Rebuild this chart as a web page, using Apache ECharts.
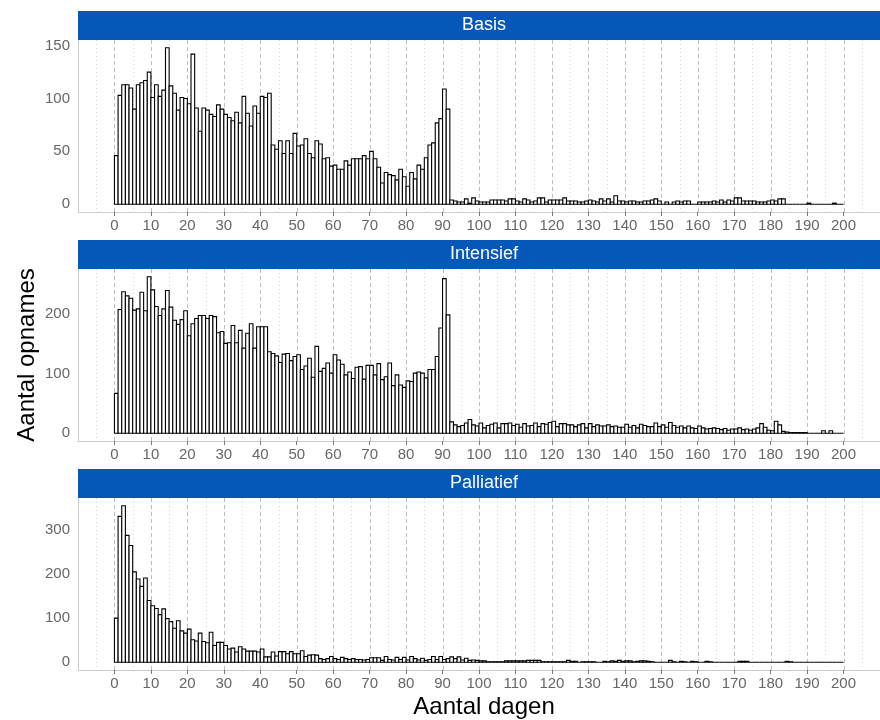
<!DOCTYPE html>
<html>
<head>
<meta charset="utf-8">
<script src="https://cdn.jsdelivr.net/npm/echarts@6/dist/echarts.min.js"></script>
<style>
  html, body { margin: 0; background: #fff; }
  #main { width: 880px; height: 720px; }
</style>
</head>
<body>
<div id="main"></div>
<script>
// facet names
var panels = ['Basis', 'Intensief', 'Palliatief'];

// aantal opnames per dag (dag 0 t/m 199)
var basis = [
  46, 103, 113, 113, 110, 90, 113, 115, 117, 125,
  101, 113, 102, 108, 148, 112, 105, 89, 101, 100,
  95, 142, 91, 69, 91, 89, 85, 83, 94, 90,
  85, 82, 79, 87, 77, 102, 86, 74, 93, 86,
  102, 101, 105, 56, 52, 60, 48, 60, 48, 67,
  55, 56, 62, 48, 44, 60, 57, 43, 44, 36,
  37, 33, 33, 41, 37, 43, 43, 43, 46, 43,
  50, 43, 35, 20, 30, 28, 27, 23, 33, 26,
  17, 30, 24, 37, 33, 44, 56, 58, 77, 81,
  109, 90, 4, 3, 2, 2, 5, 1, 6, 3,
  2, 2, 2, 4, 4, 4, 4, 3, 5, 5,
  3, 2, 5, 4, 2, 3, 6, 6, 2, 4,
  4, 4, 4, 6, 3, 3, 3, 2, 2, 3,
  4, 3, 2, 5, 3, 5, 2, 8, 3, 3,
  2, 3, 3, 2, 2, 3, 3, 4, 5, 3,
  0, 2, 0, 2, 3, 2, 3, 3, 0, 0,
  2, 2, 2, 2, 3, 2, 4, 2, 4, 3,
  6, 6, 3, 3, 3, 3, 2, 2, 2, 3,
  4, 3, 5, 5, 0, 0, 0, 0, 0, 0,
  1, 0, 0, 0, 0, 0, 0, 1, 0, 0
];

var intensief = [
  67, 208, 238, 231, 227, 207, 209, 237, 206, 263,
  241, 213, 198, 209, 240, 212, 190, 183, 191, 206,
  164, 184, 193, 198, 198, 193, 198, 196, 169, 171,
  151, 152, 181, 152, 173, 143, 168, 184, 143, 179,
  179, 179, 137, 134, 130, 119, 133, 134, 122, 129,
  132, 107, 113, 126, 94, 146, 104, 109, 118, 101,
  132, 123, 116, 98, 103, 92, 111, 112, 91, 114,
  114, 98, 117, 90, 95, 118, 80, 98, 81, 77,
  88, 87, 101, 103, 101, 93, 107, 107, 129, 177,
  260, 199, 19, 14, 11, 13, 17, 23, 14, 12,
  17, 9, 13, 15, 17, 9, 16, 16, 17, 13,
  15, 10, 16, 12, 13, 17, 11, 16, 15, 18,
  20, 11, 16, 16, 14, 14, 11, 14, 16, 9,
  16, 11, 14, 12, 12, 14, 11, 12, 10, 10,
  15, 10, 13, 9, 15, 13, 11, 11, 17, 11,
  14, 10, 18, 13, 10, 12, 9, 12, 9, 8,
  12, 9, 7, 8, 9, 8, 6, 8, 5, 7,
  7, 9, 6, 7, 5, 7, 9, 16, 10, 5,
  4, 20, 14, 3, 2, 1, 1, 1, 1, 1,
  0, 0, 0, 0, 4, 0, 4, 0, 0, 0
];

var palliatief = [
  100, 331, 355, 288, 265, 205, 189, 172, 191, 140,
  128, 122, 108, 121, 99, 92, 77, 94, 71, 66,
  75, 51, 48, 66, 47, 44, 68, 38, 45, 45,
  38, 30, 32, 23, 35, 30, 25, 25, 25, 23,
  30, 12, 12, 23, 14, 24, 24, 19, 24, 19,
  19, 26, 13, 16, 17, 16, 8, 6, 8, 13,
  8, 6, 11, 8, 6, 8, 6, 6, 5, 6,
  10, 10, 10, 4, 13, 6, 5, 11, 6, 11,
  5, 13, 8, 5, 9, 4, 6, 13, 6, 13,
  6, 8, 12, 8, 12, 5, 9, 4, 5, 4,
  3, 3, 1, 1, 1, 1, 1, 3, 3, 3,
  3, 3, 3, 4, 4, 4, 4, 1, 1, 1,
  1, 1, 1, 1, 4, 2, 2, 0, 1, 1,
  1, 1, 0, 0, 2, 1, 3, 2, 4, 2,
  3, 3, 1, 2, 3, 3, 2, 1, 0, 0,
  0, 0, 4, 1, 0, 2, 1, 0, 2, 1,
  0, 0, 2, 1, 0, 0, 0, 0, 0, 0,
  0, 2, 2, 2, 0, 0, 0, 0, 0, 0,
  0, 0, 0, 0, 2, 1, 0, 0, 0, 0,
  0, 0, 0, 0, 0, 0, 0, 0, 0, 0
];

// as-labels
var xMajor = [0, 10, 20, 30, 40, 50, 60, 70, 80, 90, 100, 110, 120, 130, 140, 150, 160, 170, 180, 190, 200];
var xMinor = [-5, 5, 15, 25, 35, 45, 55, 65, 75, 85, 95, 105, 115, 125, 135, 145, 155, 165, 175, 185, 195, 205];
var yTicks = [
  [0, 50, 100, 150],
  [0, 100, 200],
  [0, 100, 200, 300]
];

var seriesValues = [basis, intensief, palliatief];
var days = basis.map(function (v, i) { return i; });

var font = 'Liberation Sans, Arial, sans-serif';
var panelTop = [40, 269, 498];
var panelH = 172;
var stripH = 29;

var chart = echarts.init(document.getElementById('main'));

function barItem(params, api) {
  var d = api.value(0);
  var v = api.value(1);
  var p0 = api.coord([d, 0]);
  var p1 = api.coord([d + 1, v]);
  return {
    type: 'rect',
    shape: { x: p0[0], y: p1[1], width: p1[0] - p0[0], height: p0[1] - p1[1] },
    style: { fill: '#fff', stroke: '#000', lineWidth: 1.1 }
  };
}

function gridItem(params, api) {
  var x = Math.round(api.coord([api.value(0), 0])[0]) + 0.5;
  var cs = params.coordSys;
  var major = api.value(1) === 1;
  return {
    type: 'line',
    shape: { x1: x, y1: cs.y, x2: x, y2: cs.y + cs.height },
    style: {
      stroke: major ? '#bdbdbd' : '#d3d3d3',
      lineWidth: 1,
      lineDash: major ? [4, 3] : [1, 3]
    }
  };
}

var grids = [], xAxes = [], yAxes = [], series = [], graphics = [];

panels.forEach(function (name, i) {
  var vals = seriesValues[i];
  var top = Math.max.apply(null, vals);
  grids.push({ left: 78, top: panelTop[i], width: 814, height: panelH });
  xAxes.push({
    gridIndex: i,
    type: 'value',
    min: -10,
    max: 210,
    axisLine: { onZero: false, lineStyle: { color: '#cccccc' } },
    axisTick: { customValues: xMajor, length: 4, lineStyle: { color: '#777' } },
    axisLabel: { customValues: xMajor, color: '#666', fontSize: 15, fontFamily: font, margin: 6 },
    splitLine: { show: false }
  });
  yAxes.push({
    gridIndex: i,
    type: 'value',
    min: -0.05 * top,
    max: 1.05 * top,
    axisLine: { show: true, onZero: false, lineStyle: { color: '#cccccc' } },
    axisTick: { show: false },
    axisLabel: { customValues: yTicks[i], color: '#666', fontSize: 15, fontFamily: font, margin: 8 },
    splitLine: { show: false }
  });
  series.push({
    type: 'custom',
    name: name + ' grid',
    xAxisIndex: i,
    yAxisIndex: i,
    silent: true,
    z: 1,
    renderItem: gridItem,
    data: xMajor.map(function (v) { return [v, 1]; }).concat(xMinor.map(function (v) { return [v, 0]; }))
  });
  series.push({
    type: 'custom',
    name: name,
    xAxisIndex: i,
    yAxisIndex: i,
    z: 2,
    renderItem: barItem,
    data: days.map(function (d, k) { return [d, vals[k]]; })
  });
  graphics.push({
    type: 'rect',
    shape: { x: 78, y: panelTop[i] - stripH, width: 814, height: stripH },
    style: { fill: '#0558b8' },
    z: 10
  });
  graphics.push({
    type: 'text',
    x: 484,
    y: panelTop[i] - stripH / 2,
    z: 11,
    style: { text: name, fill: '#ffffff', font: '18px ' + font, align: 'center', verticalAlign: 'middle' }
  });
});

graphics.push({
  type: 'text', x: 484, y: 707,
  style: { text: 'Aantal dagen', fill: '#000', font: '24px ' + font, align: 'center', verticalAlign: 'middle' }
});
graphics.push({
  type: 'text', x: 27, y: 355, rotation: Math.PI / 2,
  style: { text: 'Aantal opnames', fill: '#000', font: '24px ' + font, align: 'center', verticalAlign: 'middle' }
});

chart.setOption({
  animation: false,
  backgroundColor: '#fff',
  grid: grids,
  xAxis: xAxes,
  yAxis: yAxes,
  series: series,
  graphic: graphics
});
</script>
</body>
</html>
